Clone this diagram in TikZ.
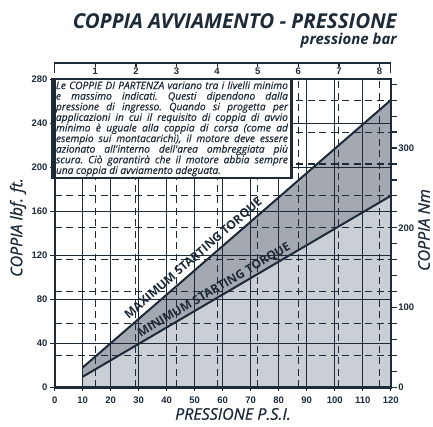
\documentclass[tikz,border=0pt]{standalone}
\usepackage{fontspec}
\setmainfont{Open Sans}
\newfontfamily\numfont{Liberation Sans}
\newfontfamily\semifont[FakeBold=0.8]{Open Sans}
\newfontfamily\notefont[FakeBold=0.4]{Open Sans}
\usepackage{xcolor}
\usetikzlibrary{positioning}
\definecolor{navy}{HTML}{1D2A38}
\definecolor{lightarea}{HTML}{CACED5}
\definecolor{darkarea}{HTML}{A4A9B1}
\tikzset{
	axisnum/.style = {
		font = \numfont\bfseries\fontsize{9.5}{9.5}\selectfont,
		text = navy,
		inner sep = 1pt,
	},
	solidgrid/.style = {draw = navy, line width = 1.1pt},
	dashgrid/.style = {draw = navy, line width = 1.1pt, dash pattern = on 7pt off 4.5pt},
	plotframe/.style = {draw = navy, line width = 2.4pt},
	torqueline/.style = {draw = navy, line width = 2pt},
	curvelabel/.style = {
		font = \bfseries\fontsize{12}{12}\selectfont,
		text = navy,
		sloped,
		above,
	},
	axistitle/.style = {
		font = \semifont\itshape\fontsize{16}{16}\selectfont,
		text = navy,
		inner sep = 0pt,
	},
	notebox/.style = {
		rectangle,
		draw = navy,
		line width = 2.4pt,
		fill = white,
		outer sep = 0pt,
		inner xsep = 3.5pt,
		inner ysep = 2pt,
		text width = 232pt,
		align = justify,
		text = navy,
		font = \notefont\itshape\fontsize{10.2}{10.6}\selectfont\frenchspacing,
	}
}

\begin{document}
\begin{tikzpicture}[x = 2.8pt, y = 1.1pt]
	\useasboundingbox (-54.7pt,-38.7pt) rectangle (378.3pt,387.3pt);

	% torque limits
	\coordinate (minlow) at (10,9.6);
	\coordinate (minhigh) at (120,174);
	\coordinate (maxlow) at (10,18);
	\coordinate (maxhigh) at (120,261);

	\fill[lightarea] (10,0) -- (minlow) -- (minhigh) -- (120,0) -- cycle;
	\fill[darkarea] (minlow) -- (maxlow) -- (maxhigh) -- (minhigh) -- cycle;

	\foreach \x in {10,20,...,110}
		\draw[solidgrid] (\x,0) -- (\x,280);
	\foreach \y in {40,80,...,240}
		\draw[solidgrid] (0,\y) -- (120,\y);
	\foreach \k in {1,...,8}
		\draw[dashgrid] (14.5*\k,0) -- (14.5*\k,280);
	\foreach \k in {1,...,9}
		\draw[dashgrid] (0,29*\k) -- (120,29*\k);

	\draw[torqueline] (maxlow) -- (maxhigh)
		node[curvelabel, pos = 0.38, inner sep = 3pt] (maxlabel) {MAXIMUM STARTING TORQUE};
	\draw[torqueline] (minlow) -- (minhigh)
		node[curvelabel, pos = 0.44, inner sep = 1.5pt] (minlabel) {MINIMUM STARTING TORQUE};

	\node[notebox, anchor = north west] (note) at (-0.8,280) {Le COPPIE DI PARTENZA variano tra i livelli minimo\linebreak
		e massimo indicati. Questi dipendono dalla\linebreak
		pressione di ingresso. Quando si progetta per\linebreak
		applicazioni in cui il requisito di coppia di avvio\linebreak
		minimo è uguale alla coppia di corsa (come ad\linebreak
		esempio sui montacarichi), il motore deve essere\linebreak
		azionato all'interno dell'area ombreggiata più\linebreak
		scura. Ciò garantirà che il motore abbia sempre\linebreak
		una coppia di avviamento adeguata.};

	\draw[plotframe] (0,0) rectangle (120,280);

	% scales
	\foreach \x in {0,10,...,120}{
		\draw[navy, line width = 1.2pt] (\x,0) -- ++(0,-4pt);
		\node[axisnum] (psi\x) at (\x,-12.7pt) {\x};
	}
	\foreach \y in {0,40,...,280}{
		\draw[navy, line width = 1.2pt] (0,\y) -- ++(-5pt,0);
		\node[axisnum, anchor = east] (lbf\y) at (-6pt,\y) {\y};
	}
	\foreach \k in {0,...,19}
		\draw[navy, line width = 1.2pt] (120,14.5*\k) -- ++(6pt,0);
	\foreach \k in {0,1,2,3}
		\node[axisnum, anchor = west] (nm\k) at ([xshift = 6.5pt]120,72.5*\k) {\ifnum\k=0 0\else\k00\fi};

	\draw[navy, line width = 1.2pt] (0,280) ++(0,6pt) -- ++(0,10.3pt) -| ([yshift = 6pt]120,280);
	\foreach \k in {1,...,8}{
		\draw[navy, line width = 1.2pt] ([yshift = 16.3pt]14.5*\k,280) -- ++(0,-4pt);
		\node[axisnum] (bar\k) at ([yshift = 8pt]14.5*\k,280) {\k};
	}

	% titles
	\node[axistitle, rotate = 90] (lefttitle) at (-36.7pt,159.8pt) {COPPIA lbf. ft.};
	\node[axistitle, rotate = 90] (righttitle) at (369.3pt,157.3pt) {COPPIA Nm};
	\node[axistitle] (bottomtitle) at (178.3pt,-26.7pt) {PRESSIONE P.S.I.};
	\node[anchor = base east, inner sep = 0pt, text = navy, font = \bfseries\itshape\fontsize{20.5}{20.5}\selectfont] (title) at (342.3pt,358.3pt) {COPPIA AVVIAMENTO - PRESSIONE};
	\node[anchor = base east, inner sep = 0pt, text = navy, font = \bfseries\itshape\fontsize{15}{15}\selectfont] (subtitle) at (342.3pt,342.3pt) {pressione bar};
\end{tikzpicture}
\end{document}
